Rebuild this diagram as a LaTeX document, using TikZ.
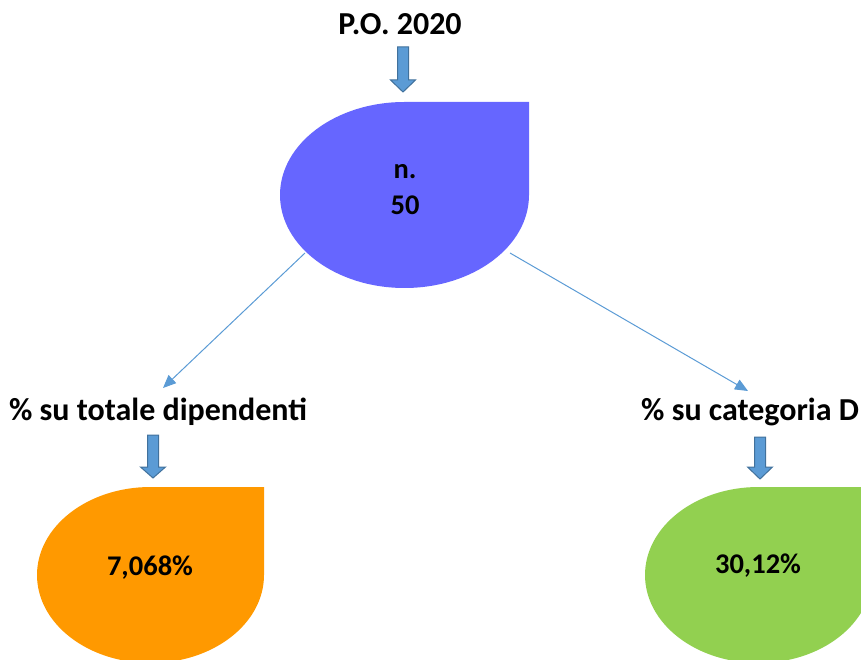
\documentclass[tikz,border=0pt]{standalone}
\usepackage{fontspec}
\setmainfont{Carlito}
\usetikzlibrary{arrows.meta}
\definecolor{dropblue}{HTML}{6666FF}
\definecolor{droporange}{HTML}{FF9900}
\definecolor{dropgreen}{HTML}{92D050}
\definecolor{linkblue}{HTML}{5B9BD5}
\definecolor{arrowedge}{HTML}{41719C}
\tikzset{
  lbl/.style={font=\bfseries\fontsize{32}{38}\selectfont, inner sep=0pt},
  val/.style={font=\bfseries\fontsize{28.5}{34}\selectfont, inner sep=0pt, align=center},
  link/.style={draw=linkblue, line width=1pt, -{Triangle[length=13pt,width=11pt]}},
  blockarrow/.style={fill=linkblue, draw=arrowedge, line width=1pt, line join=miter}
}
\newcommand{\downblock}[4]{% x, ytop, yhead, ytip
  \path[blockarrow] (#1-5.5,#2) -- (#1+5.5,#2) -- (#1+5.5,#3) -- (#1+12.5,#3)
    -- (#1,#4) -- (#1-12.5,#3) -- (#1-5.5,#3) -- cycle;}
\begin{document}
\begin{tikzpicture}[x=1pt,y=1pt]
\useasboundingbox (0,0) rectangle (861,659);
\clip (0,0) rectangle (861,659);
% teardrops
\fill[dropblue] (529,557) -- (529,464) arc[start angle=0, end angle=-270, x radius=124.5pt, y radius=93pt] -- cycle;
\fill[droporange] (264,172) -- (264,84) arc[start angle=0, end angle=-270, x radius=113.5pt, y radius=88pt] -- cycle;
\fill[dropgreen] (872,172) -- (872,84) arc[start angle=0, end angle=-270, x radius=113.5pt, y radius=88pt] -- cycle;
% texts
\node[lbl] (po) at (400,635) {P.O. 2020};
\node[val] (n) at (405,487) {n.};
\node[val] (fifty) at (405,454) {50};
\node[lbl] (tot) at (158,247) {\% su totale dipendenti};
\node[lbl,anchor=west] (cat) at (641,247) {\% su categoria D};
\node[val] (p1) at (150,91) {7,068\%};
\node[val] (p2) at (758,93) {30,12\%};
% block arrows
\downblock{403}{612}{579}{567}
\downblock{153}{224}{192}{181}
\downblock{760}{222}{192}{180}
% connectors
\coordinate (s1) at (305,406);
\coordinate (e1) at (163,271);
\coordinate (s2) at (510,406);
\coordinate (e2) at (748,268);
\draw[link] (s1) -- (e1);
\draw[link] (s2) -- (e2);
\end{tikzpicture}
\end{document}
